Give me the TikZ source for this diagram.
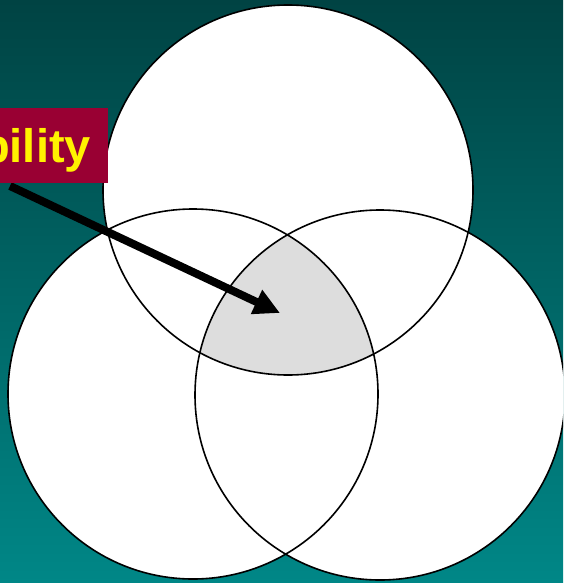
\documentclass[tikz,border=0pt]{standalone}
\usepackage{fontspec}
\setmainfont{Liberation Sans}
\usepackage{tikz}
\usetikzlibrary{arrows.meta,positioning}

\definecolor{tealtop}{HTML}{004343}
\definecolor{tealbot}{HTML}{008787}
\definecolor{lblred}{HTML}{990033}
\definecolor{venngray}{HTML}{DDDDDD}

\tikzset{
  venn/.style={circle, fill=white, minimum size=370pt, inner sep=0pt},
  vennline/.style={draw=black, line width=1.6pt},
  lblbox/.style={fill=lblred, text=yellow, inner xsep=17pt, inner ysep=0pt,
    text height=54pt, text depth=21pt, font=\fontsize{47}{50}\selectfont\bfseries},
  pointer/.style={line width=8pt, -{Triangle[length=26pt,width=25pt]}}
}

\begin{document}
\begin{tikzpicture}[x=1pt, y=-1pt]
  \useasboundingbox (0,0) rectangle (563,583);
  \clip (0,0) rectangle (563,583);
  \shade[top color=tealtop, bottom color=tealbot] (0,0) rectangle (563,583);

  % three sets
  \node[venn] (ctop) at (288,190) {};
  \node[venn] (cleft) at (193,394) {};
  \node[venn] (cright) at (380,395) {};

  % common part of all three
  \begin{scope}
    \clip (ctop.center) circle (185pt);
    \clip (cleft.center) circle (185pt);
    \fill[venngray] (cright.center) circle (185pt);
  \end{scope}

  \foreach \c in {ctop,cleft,cright}
    \draw[vennline] (\c.center) circle (185pt);

  \coordinate (tail) at (10,186);
  \coordinate (tip) at (280,313);
  \draw[pointer] (tail) -- (tip);

  \node[lblbox, anchor=base west] (lbl) at (-36,162) {bility};
\end{tikzpicture}
\end{document}
